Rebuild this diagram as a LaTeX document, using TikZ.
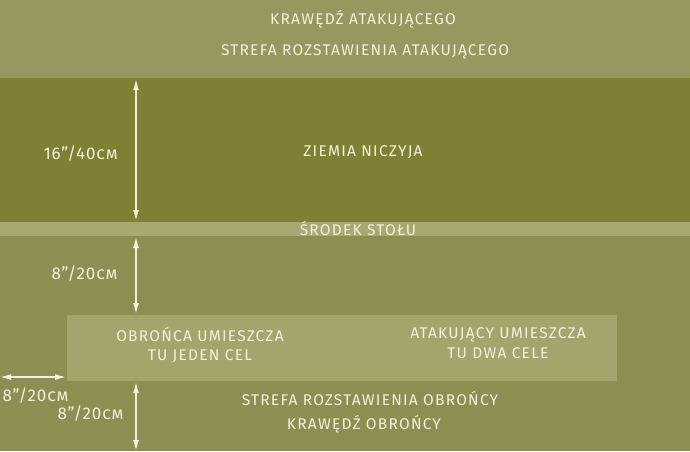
\documentclass[tikz,border=0pt]{standalone}
\usepackage{fontspec}
\setmainfont{Fira Sans}
\usetikzlibrary{arrows.meta}

\definecolor{edgeband}{HTML}{999760}
\definecolor{noband}{HTML}{7F8034}
\definecolor{midband}{HTML}{A9A872}
\definecolor{defband}{HTML}{8D8F52}
\definecolor{goalbox}{HTML}{A4A56C}
\definecolor{chalk}{HTML}{F4F0DC}

\begin{document}
\begin{tikzpicture}
  [x=1pt, y=-1pt, nodes={text=chalk, align=center, inner sep=0pt, font=\fontsize{15.5}{19.5}\selectfont\addfontfeature{LetterSpace=8}},
   >={Latex[length=11pt,width=6pt]}]
  \tikzset{measure/.style={chalk, line width=1.4pt, <->}}
  \tikzset{label/.style={font=\fontsize{17}{19}\selectfont\addfontfeature{LetterSpace=5}}}
  \useasboundingbox (0,0) rectangle (690,451);

  % bands
  \fill[edgeband] (0,0) rectangle (690,78);
  \fill[noband] (0,78) rectangle (690,222);
  \fill[midband] (0,222) rectangle (690,236);
  \fill[defband] (0,236) rectangle (690,451);
  \fill[goalbox] (67,315) rectangle (617,381);

  % band edges
  \coordinate (T1) at (136,79);
  \coordinate (T2) at (136,221);
  \coordinate (M1) at (136,237);
  \coordinate (M2) at (136,314);
  \coordinate (B1) at (136,382);
  \coordinate (B2) at (136,451);
  \coordinate (L1) at (0,377);
  \coordinate (L2) at (66,377);

  % attacker
  \node (AE) at (363,19) {KRAWĘDŹ ATAKUJĄCEGO};
  \node (AZ) at (365,52) {STREFA ROZSTAWIENIA ATAKUJĄCEGO};

  % no man's land
  \node (NL) at (363,152) {ZIEMIA NICZYJA};
  \node (MT) at (358,229) {ŚRODEK STOŁU};

  % objectives
  \node (DG) at (200,345) {OBROŃCA UMIESZCZA\\TU JEDEN CEL};
  \node (AG) at (498,343) {ATAKUJĄCY UMIESZCZA\\TU DWA CELE};

  % defender
  \node (DZ) at (370,399) {STREFA ROZSTAWIENIA OBROŃCY};
  \node (DE) at (364,424) {KRAWĘDŹ OBROŃCY};

  % distances
  \node[label] (D1) at (81,154) {16"/40\textsc{cm}};
  \node[label] (D2) at (85,274) {8"/20\textsc{cm}};
  \node[label] (D3) at (36,396) {8"/20\textsc{cm}};
  \node[label] (D4) at (91,414) {8"/20\textsc{cm}};

  \draw[measure] (T1) -- (T2);
  \draw[measure] (M1) -- (M2);
  \draw[measure] (B1) -- (B2);
  \draw[measure] (L1) -- (L2);
\end{tikzpicture}
\end{document}
